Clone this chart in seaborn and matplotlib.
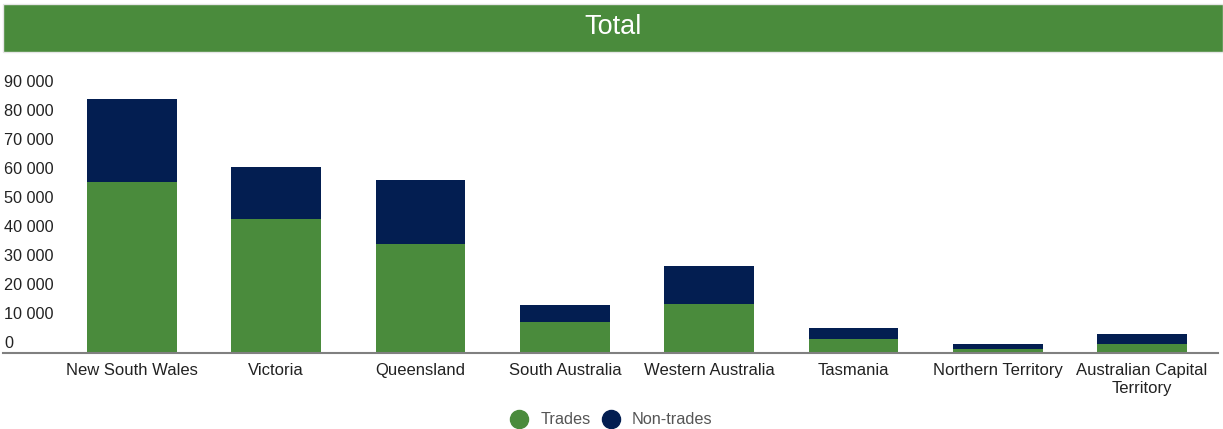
"""
Stacked bar chart: trades vs non-trades by state.
"""

import matplotlib
matplotlib.use("Agg")
import matplotlib.pyplot as plt
import matplotlib.transforms as mtransforms
from matplotlib.patches import Rectangle
from matplotlib.lines import Line2D
import seaborn as sns
import pandas as pd
import numpy as np

# Data
states = ["New South Wales", "Victoria", "Queensland", "South Australia",
          "Western Australia", "Tasmania", "Northern Territory",
          "Australian Capital\nTerritory"]
trades = [58900, 46200, 37500, 10700, 16900, 4800, 1400, 3100]
non_trades = [28600, 17900, 22100, 5800, 13100, 3800, 1700, 3400]
y_ticks = [0, 10000, 20000, 30000, 40000, 50000, 60000, 70000, 80000, 90000]

GREEN = "#4a8b3c"
NAVY = "#031e51"

sns.set_theme(style="white")
plt.rcParams['font.family'] = ['Liberation Sans', 'DejaVu Sans']

df = pd.DataFrame({"state": states, "trades": trades, "non_trades": non_trades})
df["total"] = df["trades"] + df["non_trades"]

fig = plt.figure(figsize=(12.23, 4.29), dpi=100)
W, H = 1223, 429

# title banner
fig.patches.append(Rectangle((3 / W, 1 - 52 / H), 1 - 3 / W, 48 / H,
                             transform=fig.transFigure, facecolor=GREEN,
                             edgecolor="#e6e6e6", linewidth=1, zorder=0))
fig.text((3 + W) / 2 / W, 1 - 27 / H, "Total", color="white", fontsize=19.5,
         ha="center", va="center")

# axes: bottom at y=353px, top at y=70px
ax = fig.add_axes([3 / W, 1 - 353 / H, (1218 - 3) / W, (353 - 70) / H])

sns.barplot(data=df, x="state", y="total", color=NAVY, width=0.62,
            saturation=1, linewidth=0, ax=ax)
sns.barplot(data=df, x="state", y="trades", color=GREEN, width=0.62,
            saturation=1, linewidth=0, ax=ax)

px_per_unit = 29.03 / 10000
ax.set_ylim(0, (353 - 70) / px_per_unit)
ax.set_xlim(-0.893, 7.526)
ax.set_xlabel("")
ax.set_ylabel("")
ax.set_yticks([])

for s in ["top", "right", "left"]:
    ax.spines[s].set_visible(False)
ax.spines["bottom"].set_color("#808080")
ax.spines["bottom"].set_linewidth(1.5)

ax.tick_params(axis="x", length=0, pad=7, labelsize=12, labelcolor="#222222")
for lbl in ax.get_xticklabels():
    lbl.set_linespacing(1.25)

# y labels drawn inside, a little above each gridline value
offset = mtransforms.ScaledTranslation(0, 9 / 100, fig.dpi_scale_trans)
for v in y_ticks:
    txt = f"{v:,}".replace(",", " ")
    ax.text(0.001, v, txt, transform=ax.get_yaxis_transform() + offset,
            ha="left", va="center", fontsize=11.7, color="#222222")

handles = [Line2D([], [], marker="o", linestyle="", color=GREEN, markersize=13),
           Line2D([], [], marker="o", linestyle="", color=NAVY, markersize=13)]
fig.legend(handles, ["Trades", "Non-trades"], loc="center",
           bbox_to_anchor=(0.497, 1 - 420 / H), ncol=2, frameon=False,
           fontsize=11.7, labelcolor="#555555", handletextpad=0.3,
           columnspacing=0.25, borderpad=0)

fig.savefig("out.png", dpi=100)
